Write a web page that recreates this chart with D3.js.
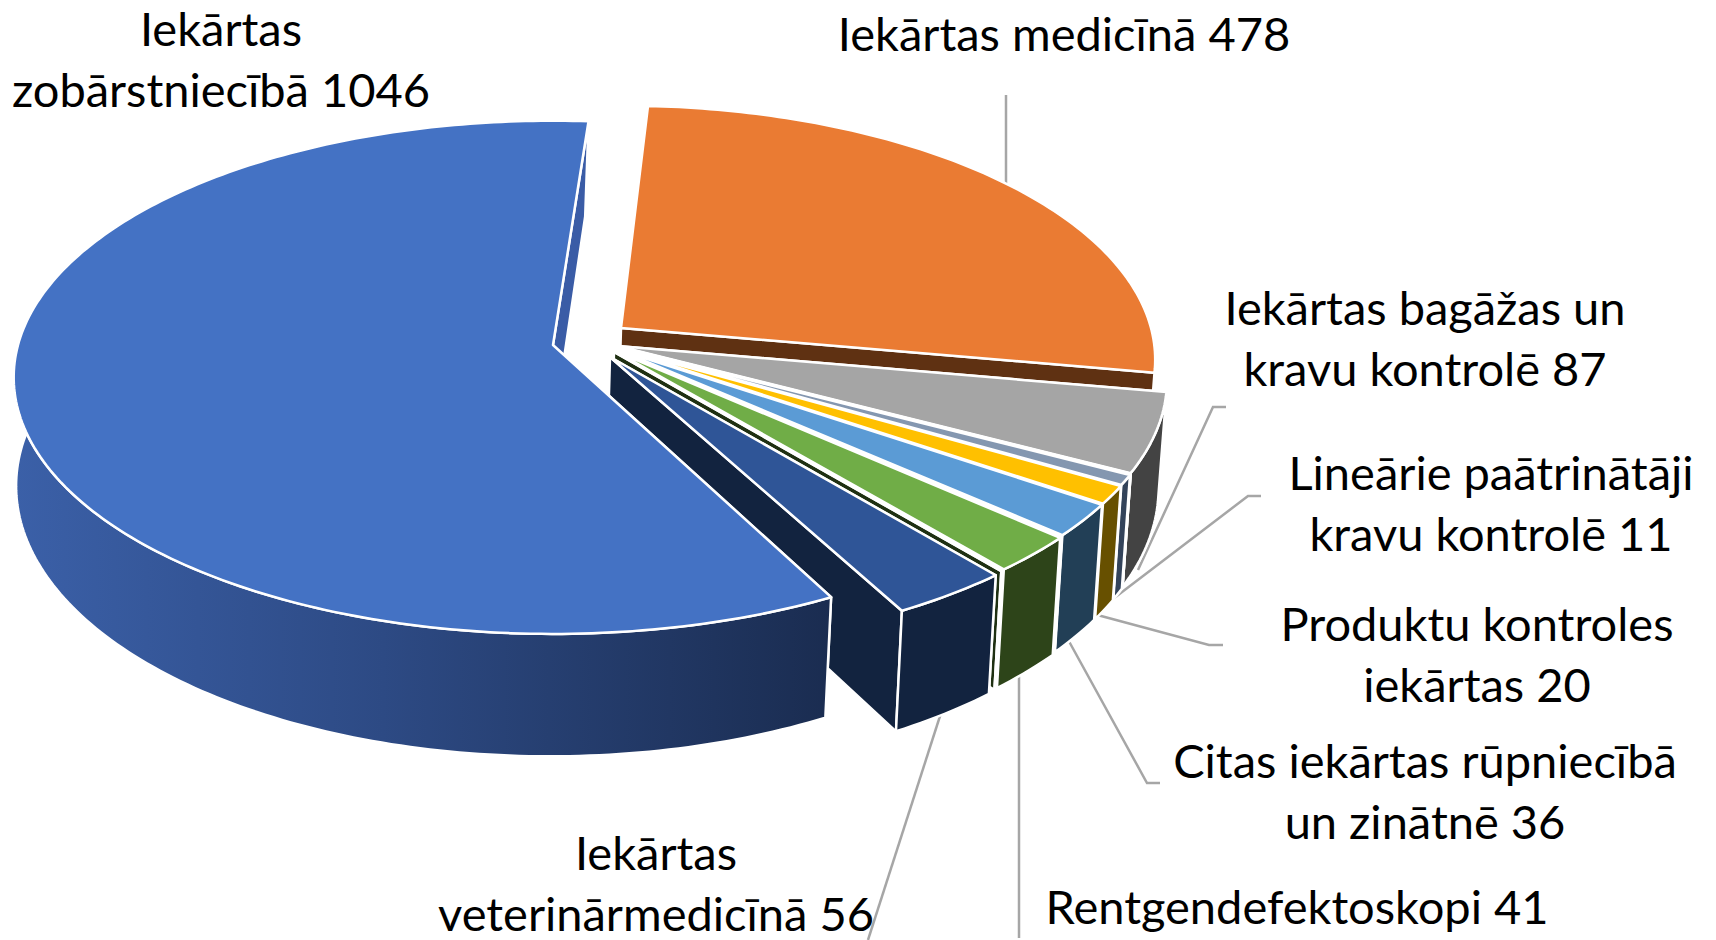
<!DOCTYPE html>
<html>
<head>
<meta charset="utf-8">
<script src="https://cdn.jsdelivr.net/npm/d3@7"></script>
<style>
body { margin: 0; background: #fff; }
text { font-family: Lato, "Open Sans", sans-serif; font-size: 47px; fill: #000; text-anchor: middle; }
</style>
</head>
<body>
<script>
//Data. The three 1s are thin unlabelled slices
var values = [1046, 478, 87, 1, 11, 20, 36, 1, 41, 1, 56];
var labels = [
    ["Iekārtas", "zobārstniecībā"],
    ["Iekārtas medicīnā"],
    ["Iekārtas bagāžas un", "kravu kontrolē"],
    null,
    ["Lineārie paātrinātāji", "kravu kontrolē"],
    ["Produktu kontroles", "iekārtas"],
    ["Citas iekārtas rūpniecībā", "un zinātnē"],
    null,
    ["Rentgendefektoskopi"],
    null,
    ["Iekārtas", "veterinārmedicīnā"]
];

//Colors of the top faces and the side walls
var topColors = ["#4472c4", "#ea7b33", "#a5a5a5", "#636363", "#8497b0", "#ffc000", "#5b9bd5", "#9dc3e6", "#70ad47", "#43682b", "#2f5597"];
var wallColors = ["url(#blueWall)", "#5f3112", "#434343", "#2a2a2a", "#33435a", "#675000", "#223f56", "#3d5a75", "#2d4419", "#1f3012", "#12233f"];
var innerColors = ["#3a5ca6", "#5f3112", "#434343", "#2a2a2a", "#33435a", "#675000", "#223f56", "#3d5a75", "#2d4419", "#1f3012", "#12233f"];

//Where each slice's point ends up after the explode, and how long it is from there
var apexX = [553, 621, 617.5, 617.5, 617.5, 617, 616, 615.5, 615, 614, 610];
var apexY = [345, 328, 346, 346.5, 347, 348, 349, 350, 351, 352, 357];
var sliceR = [535, 530, 545, 545, 545, 545, 545, 545, 545, 545, 543];

//Label anchor for every slice (centre of the text, first baseline)
var labelX = [221, 1064, 1425, null, 1491, 1477, 1425, null, 1297, null, 656];
var labelY = [46, 51, 325, null, 490, 641, 778, null, 924, null, 870];

//Leader lines
var leaders = [
    [[1006, 95], [1006, 200]],
    [[1226, 407], [1213, 407], [1138, 570]],
    [[1261, 496], [1248, 496], [1105, 605]],
    [[1223, 645], [1209, 645], [1090, 613]],
    [[1160, 783], [1147, 783], [1060, 625]],
    [[1019, 938], [1019, 650]],
    [[868, 940], [950, 685]]
];

//Width and height
var w = 1716;
var h = 940;

//The pie seen from above and in front, with some perspective
var radius = 535;
var tilt = 0.472;
var persp = 0.126;
var depth = 107;
var converge = 0.01;
var drift = 3;

function project(apex, angle, r, z) {
    var gx = r * Math.sin(angle);
    var gy = -r * Math.cos(angle);
    var s = 1 / (1 - persp * gy / radius);
    return [
        apex[0] + gx * s * (1 - converge * z) - drift * z,
        apex[1] + tilt * gy * s + depth * s * z
    ];
}

//Blue starts at lower right and sweeps round over the left
var start = 152.5 * Math.PI / 180;
var nudge = -1 * Math.PI / 180; //everything but blue sits a degree back
var pie = d3.pie()
    .sort(null)
    .startAngle(start)
    .endAngle(start + 2 * Math.PI);

var slices = pie(values);
var line = d3.line();

var svg = d3.select("body")
    .append("svg")
    .attr("width", w)
    .attr("height", h);

var grad = svg.append("defs")
    .append("linearGradient")
    .attr("id", "blueWall")
    .attr("gradientUnits", "userSpaceOnUse")
    .attr("x1", 13).attr("x2", 835)
    .attr("y1", 0).attr("y2", 0);
grad.append("stop").attr("offset", "0").attr("stop-color", "#3b60a8");
grad.append("stop").attr("offset", "0.45").attr("stop-color", "#2d4a84");
grad.append("stop").attr("offset", "1").attr("stop-color", "#1a2c50");

//Leader lines sit behind the pie
svg.selectAll("path.leader")
    .data(leaders)
    .enter()
    .append("path")
    .attr("class", "leader")
    .attr("d", line)
    .style("fill", "none")
    .style("stroke", "#a6a6a6")
    .style("stroke-width", 2.5);

//Points along the rim between two angles
function rim(apex, r, a0, a1, z) {
    var steps = Math.max(2, Math.ceil((a1 - a0) * 60));
    return d3.range(steps + 1).map(function(i) {
        return project(apex, a0 + (a1 - a0) * i / steps, r, z);
    });
}

//Draw orange first and go clockwise, blue goes last as it is in front of dark blue's wall
var order = d3.range(1, values.length).concat([0]);

var groups = svg.selectAll("g.slice")
    .data(order)
    .enter()
    .append("g")
    .attr("class", "slice")
    .style("stroke", "#fff")
    .style("stroke-width", 2.5)
    .style("stroke-linejoin", "round");

//Past this angle the outer wall turns away from the viewer
var wallEnd = 277 * Math.PI / 180;

groups.each(function(i) {
    var g = d3.select(this);
    var d = slices[i];
    var apex = [apexX[i], apexY[i]];
    var r = sliceR[i];
    var off = i ? nudge : 0;
    var a0 = d.startAngle + off;
    var a1 = d.endAngle + off;

    //Radial walls
    [a0, a1].forEach(function(a) {
        g.append("path")
            .attr("d", line([
                project(apex, a, 0, 0),
                project(apex, a, r, 0),
                project(apex, a, r, 1),
                project(apex, a, 0, 1)
            ]) + "Z")
            .style("fill", innerColors[i]);
    });

    //Outer wall, only from the front half (orange's is out of sight)
    var w0 = a0 % (2 * Math.PI);
    if (w0 > Math.PI / 2) {
        var w1 = Math.min(w0 + a1 - a0, wallEnd);
        g.append("path")
            .attr("d", line(rim(apex, r, w0, w1, 0).concat(rim(apex, r, w0, w1, 1).reverse())) + "Z")
            .style("fill", wallColors[i]);
    }

    //Top face
    g.append("path")
        .attr("d", line([apex].concat(rim(apex, r, a0, a1, 0))) + "Z")
        .style("fill", topColors[i]);
});

//Labels, value goes on the last line
labels.forEach(function(lines, i) {
    if (!lines) return;
    var t = svg.append("text")
        .attr("x", labelX[i])
        .attr("y", labelY[i]);
    lines.forEach(function(s, j) {
        t.append("tspan")
            .attr("x", labelX[i])
            .attr("dy", j ? 61 : 0)
            .text(j == lines.length - 1 ? s + " " + values[i] : s);
    });
});
</script>
</body>
</html>
